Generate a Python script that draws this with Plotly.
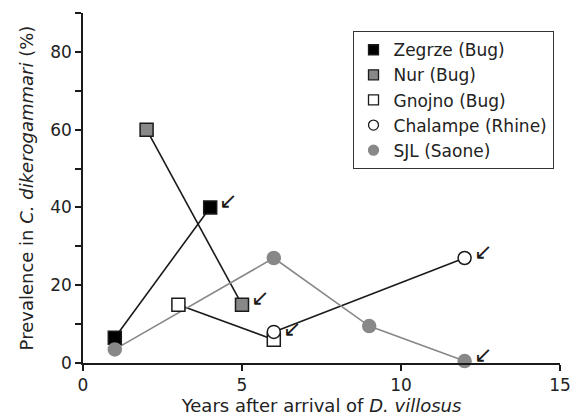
import plotly.graph_objects as go

# Data
zegrze_x = [1, 4]
zegrze_y = [6.5, 40]
nur_x = [2, 5]
nur_y = [60, 15]
gnojno_x = [3, 6]
gnojno_y = [15, 6]
chalampe_x = [6, 12]
chalampe_y = [8, 27]
sjl_x = [1, 6, 9, 12]
sjl_y = [3.5, 27, 9.5, 0.5]

arrow_x = [4, 5, 6, 12, 12]
arrow_y = [40, 15, 7, 27, 0.5]

y_tickvals = [0, 10, 20, 30, 40, 50, 60, 70, 80, 90]
y_ticktext = ["0", "", "20", "", "40", "", "60", "", "80", ""]
x_tickvals = [0, 5, 10, 15]

GRAY = "#888888"
DARK = "#1a1a1a"
FONT = "DejaVu Sans, Arial, sans-serif"

series = [
    ("Zegrze (Bug)", zegrze_x, zegrze_y, "square", "black", DARK, DARK),
    ("Nur (Bug)", nur_x, nur_y, "square", GRAY, DARK, DARK),
    ("Gnojno (Bug)", gnojno_x, gnojno_y, "square", "white", DARK, DARK),
    ("Chalampe (Rhine)", chalampe_x, chalampe_y, "circle", "white", DARK, DARK),
    ("SJL (Saone)", sjl_x, sjl_y, "circle", GRAY, GRAY, GRAY),
]

fig = go.Figure()
for name, xs, ys, sym, fill, edge, lc in series:
    fig.add_trace(go.Scatter(x=xs, y=ys, mode="lines",
                             line=dict(color=lc, width=1.6),
                             showlegend=False, hoverinfo="skip"))
for name, xs, ys, sym, fill, edge, lc in series:
    fig.add_trace(go.Scatter(x=xs, y=ys, mode="markers",
                             marker=dict(symbol=sym, size=13, color=fill,
                                         line=dict(color=edge, width=1.5)),
                             showlegend=False, cliponaxis=False))
for name, xs, ys, sym, fill, edge, lc in series:
    fig.add_trace(go.Scatter(x=[None], y=[None], mode="markers", name=name,
                             marker=dict(symbol=sym, size=10, color=fill,
                                         line=dict(color=edge, width=1.3))))

for ax, ay in zip(arrow_x, arrow_y):
    fig.add_annotation(x=ax, y=ay, text="↙", showarrow=False,
                       xshift=18, yshift=7,
                       font=dict(size=22, color=DARK, family="DejaVu Sans"))

fig.update_layout(
    width=571, height=420,
    margin=dict(l=83, r=11, t=13, b=57),
    plot_bgcolor="white", paper_bgcolor="white",
    font=dict(family=FONT, size=18, color="#222222"),
    legend=dict(x=0.565, y=0.948, xanchor="left", yanchor="top",
                bordercolor="#333333", borderwidth=1, bgcolor="white",
                font=dict(size=17, color="#222222", family=FONT),
                itemsizing="trace", tracegroupgap=0, itemwidth=30),
)
fig.update_xaxes(range=[0, 15], tickvals=x_tickvals, ticks="outside", ticklen=6,
                 tickwidth=1.5, tickcolor=DARK, showline=True, linecolor=DARK,
                 linewidth=1.5, showgrid=False, zeroline=False,
                 tickfont=dict(size=17), automargin=False,
                 ticklabeloverflow="allow",
                 title=dict(text="Years after arrival of <i>D. villosus</i>",
                            standoff=3, font=dict(size=18)))
fig.update_yaxes(range=[0, 90], tickvals=y_tickvals, ticktext=y_ticktext,
                 ticks="outside", ticklen=6, tickwidth=1.5, tickcolor=DARK,
                 showline=True, linecolor=DARK, linewidth=1.5, showgrid=False,
                 zeroline=False, tickfont=dict(size=17), automargin=False,
                 title=dict(text="Prevalence in <i>C. dikerogammari</i> (%)",
                            standoff=12, font=dict(size=18)))

fig.write_html("out.html", config={"displayModeBar": False},
               post_script="document.body.style.margin='0';document.body.style.overflow='hidden';")
